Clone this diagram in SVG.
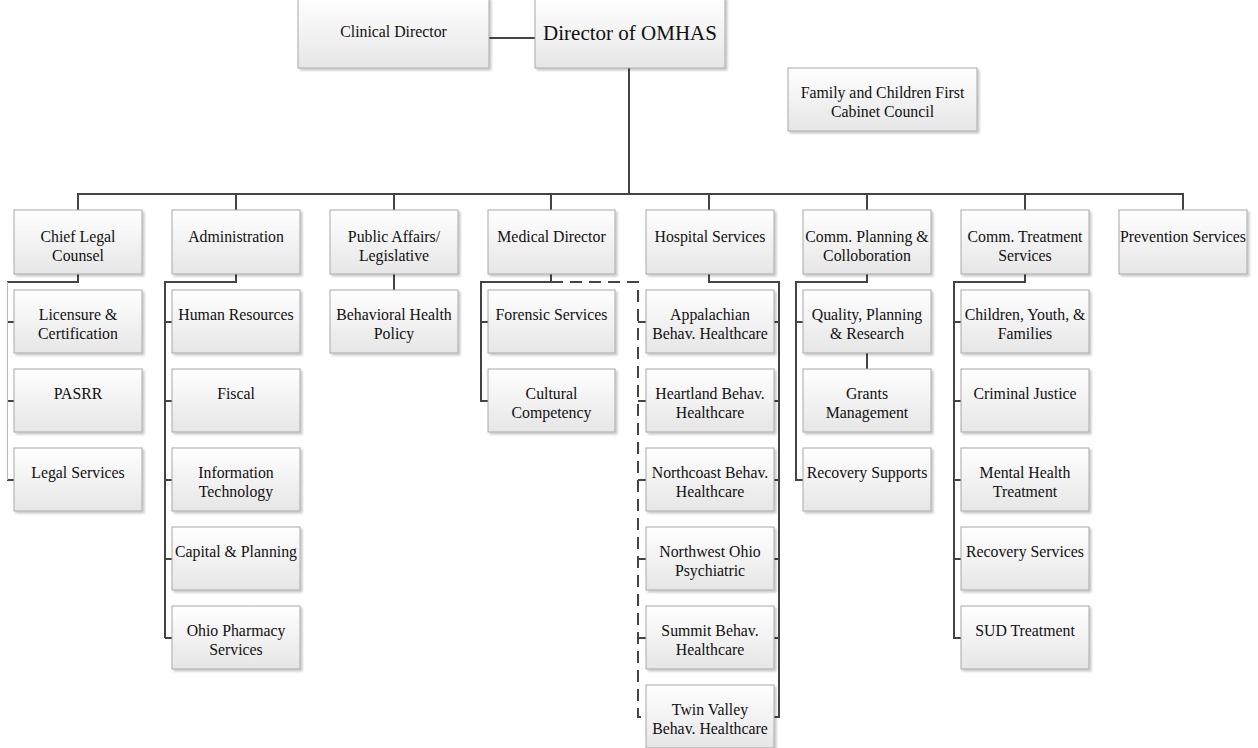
<svg xmlns="http://www.w3.org/2000/svg" width="1258" height="748" viewBox="0 0 1258 748">
<defs>
<linearGradient id="g" x1="0" y1="0" x2="0" y2="1">
<stop offset="0" stop-color="#ffffff"/>
<stop offset="1" stop-color="#e6e6e6"/>
</linearGradient>
<filter id="sh" x="-10%" y="-10%" width="130%" height="130%">
<feGaussianBlur in="SourceAlpha" stdDeviation="1"/>
<feOffset dx="2" dy="2" result="o"/>
<feComponentTransfer><feFuncA type="linear" slope="0.22"/></feComponentTransfer>
<feMerge><feMergeNode/><feMergeNode in="SourceGraphic"/></feMerge>
</filter>
</defs>
<style>
.b{fill:url(#g);stroke:#a8a8a8;stroke-width:1;filter:url(#sh)}
.t text{font-size:15.8px;fill:#111;text-anchor:middle}
.t .big{font-size:21px}
.c{fill:none;stroke:#444;stroke-width:2}
.d{fill:none;stroke:#444;stroke-width:2;stroke-dasharray:12 7}
.l{fill:none;stroke:#bbb;stroke-width:1}
</style>
<rect width="1258" height="748" fill="#fff"/>
<g id="connectors">
<path class="c" d="M489 38H535"/>
<path class="c" d="M629 68V194"/>
<path class="c" d="M78 210V194H1183V210M236 194V210M394 194V210M551 194V210M709 194V210M867 194V210M1025 194V210"/>
<path class="c" d="M78 274V282H7M7 322H14M7 401H14M7 480H14"/>
<path class="l" d="M7.5 282V480"/>
<path class="c" d="M236 274V282H165V638M165 322H172M165 401H172M165 480H172M165 559H172M165 638H172"/>
<path class="c" d="M394 274V290"/>
<path class="c" d="M551 274V282H481V401H488M481 322H488"/>
<path class="d" d="M551 282H638V717H646"/>
<path class="c" d="M638 322H646M638 401H646M638 480H646M638 559H646M638 638H646"/>
<path class="c" d="M709 274V282H779V717H774M774 322H779M774 401H779M774 480H779M774 559H779M774 638H779"/>
<path class="c" d="M867 274V282H796V480H803M796 322H803M867 353V369"/>
<path class="c" d="M1025 274V282H954V638H961M954 322H961M954 401H961M954 480H961M954 559H961"/>
</g>
<g class="t" font-family="Liberation Serif, Times New Roman, DejaVu Serif, serif">
<g id="clinical-director"><rect class="b" x="298" y="-2" width="191" height="70"/><text x="393.5" y="37">Clinical Director</text></g>
<g id="director"><rect class="b" x="535" y="-2" width="190" height="70"/><text class="big" x="630" y="40">Director of OMHAS</text></g>
<g id="family-council"><rect class="b" x="788" y="68" width="189" height="63"/><text x="882.5" y="98">Family and Children First</text><text x="882.5" y="117">Cabinet Council</text></g>

<g id="chief-legal"><rect class="b" x="14" y="210" width="128" height="64"/><text x="78" y="242">Chief Legal</text><text x="78" y="261">Counsel</text></g>
<g id="administration"><rect class="b" x="172" y="210" width="128" height="64"/><text x="236" y="242">Administration</text></g>
<g id="public-affairs"><rect class="b" x="330" y="210" width="128" height="64"/><text x="394" y="242">Public Affairs/</text><text x="394" y="261">Legislative</text></g>
<g id="medical-director"><rect class="b" x="488" y="210" width="127" height="64"/><text x="551.5" y="242">Medical Director</text></g>
<g id="hospital-services"><rect class="b" x="646" y="210" width="128" height="64"/><text x="710" y="242">Hospital Services</text></g>
<g id="comm-planning"><rect class="b" x="803" y="210" width="128" height="64"/><text x="867" y="242">Comm. Planning &amp;</text><text x="867" y="261">Colloboration</text></g>
<g id="comm-treatment"><rect class="b" x="961" y="210" width="128" height="64"/><text x="1025" y="242">Comm. Treatment</text><text x="1025" y="261">Services</text></g>
<g id="prevention"><rect class="b" x="1119" y="210" width="128" height="64"/><text x="1183" y="242">Prevention Services</text></g>

<g id="licensure"><rect class="b" x="14" y="290" width="128" height="63"/><text x="78" y="320">Licensure &amp;</text><text x="78" y="339">Certification</text></g>
<g id="pasrr"><rect class="b" x="14" y="369" width="128" height="63"/><text x="78" y="399">PASRR</text></g>
<g id="legal-services"><rect class="b" x="14" y="448" width="128" height="63"/><text x="78" y="478">Legal Services</text></g>

<g id="human-resources"><rect class="b" x="172" y="290" width="128" height="63"/><text x="236" y="320">Human Resources</text></g>
<g id="fiscal"><rect class="b" x="172" y="369" width="128" height="63"/><text x="236" y="399">Fiscal</text></g>
<g id="info-tech"><rect class="b" x="172" y="448" width="128" height="63"/><text x="236" y="478">Information</text><text x="236" y="497">Technology</text></g>
<g id="capital-planning"><rect class="b" x="172" y="527" width="128" height="63"/><text x="236" y="557">Capital &amp; Planning</text></g>
<g id="ohio-pharmacy"><rect class="b" x="172" y="606" width="128" height="63"/><text x="236" y="636">Ohio Pharmacy</text><text x="236" y="655">Services</text></g>

<g id="bh-policy"><rect class="b" x="330" y="290" width="128" height="63"/><text x="394" y="320">Behavioral Health</text><text x="394" y="339">Policy</text></g>

<g id="forensic"><rect class="b" x="488" y="290" width="127" height="63"/><text x="551.5" y="320">Forensic Services</text></g>
<g id="cultural"><rect class="b" x="488" y="369" width="127" height="63"/><text x="551.5" y="399">Cultural</text><text x="551.5" y="418">Competency</text></g>

<g id="appalachian"><rect class="b" x="646" y="290" width="128" height="63"/><text x="710" y="320">Appalachian</text><text x="710" y="339">Behav. Healthcare</text></g>
<g id="heartland"><rect class="b" x="646" y="369" width="128" height="63"/><text x="710" y="399">Heartland Behav.</text><text x="710" y="418">Healthcare</text></g>
<g id="northcoast"><rect class="b" x="646" y="448" width="128" height="63"/><text x="710" y="478">Northcoast Behav.</text><text x="710" y="497">Healthcare</text></g>
<g id="northwest"><rect class="b" x="646" y="527" width="128" height="63"/><text x="710" y="557">Northwest Ohio</text><text x="710" y="576">Psychiatric</text></g>
<g id="summit"><rect class="b" x="646" y="606" width="128" height="63"/><text x="710" y="636">Summit Behav.</text><text x="710" y="655">Healthcare</text></g>
<g id="twin-valley"><rect class="b" x="646" y="685" width="128" height="63"/><text x="710" y="715">Twin Valley</text><text x="710" y="734">Behav. Healthcare</text></g>

<g id="quality"><rect class="b" x="803" y="290" width="128" height="63"/><text x="867" y="320">Quality, Planning</text><text x="867" y="339">&amp; Research</text></g>
<g id="grants"><rect class="b" x="803" y="369" width="128" height="63"/><text x="867" y="399">Grants</text><text x="867" y="418">Management</text></g>
<g id="recovery-supports"><rect class="b" x="803" y="448" width="128" height="63"/><text x="867" y="478">Recovery Supports</text></g>

<g id="children-youth"><rect class="b" x="961" y="290" width="128" height="63"/><text x="1025" y="320">Children, Youth, &amp;</text><text x="1025" y="339">Families</text></g>
<g id="criminal-justice"><rect class="b" x="961" y="369" width="128" height="63"/><text x="1025" y="399">Criminal Justice</text></g>
<g id="mental-health"><rect class="b" x="961" y="448" width="128" height="63"/><text x="1025" y="478">Mental Health</text><text x="1025" y="497">Treatment</text></g>
<g id="recovery-services"><rect class="b" x="961" y="527" width="128" height="63"/><text x="1025" y="557">Recovery Services</text></g>
<g id="sud-treatment"><rect class="b" x="961" y="606" width="128" height="63"/><text x="1025" y="636">SUD Treatment</text></g>
</g>
</svg>
